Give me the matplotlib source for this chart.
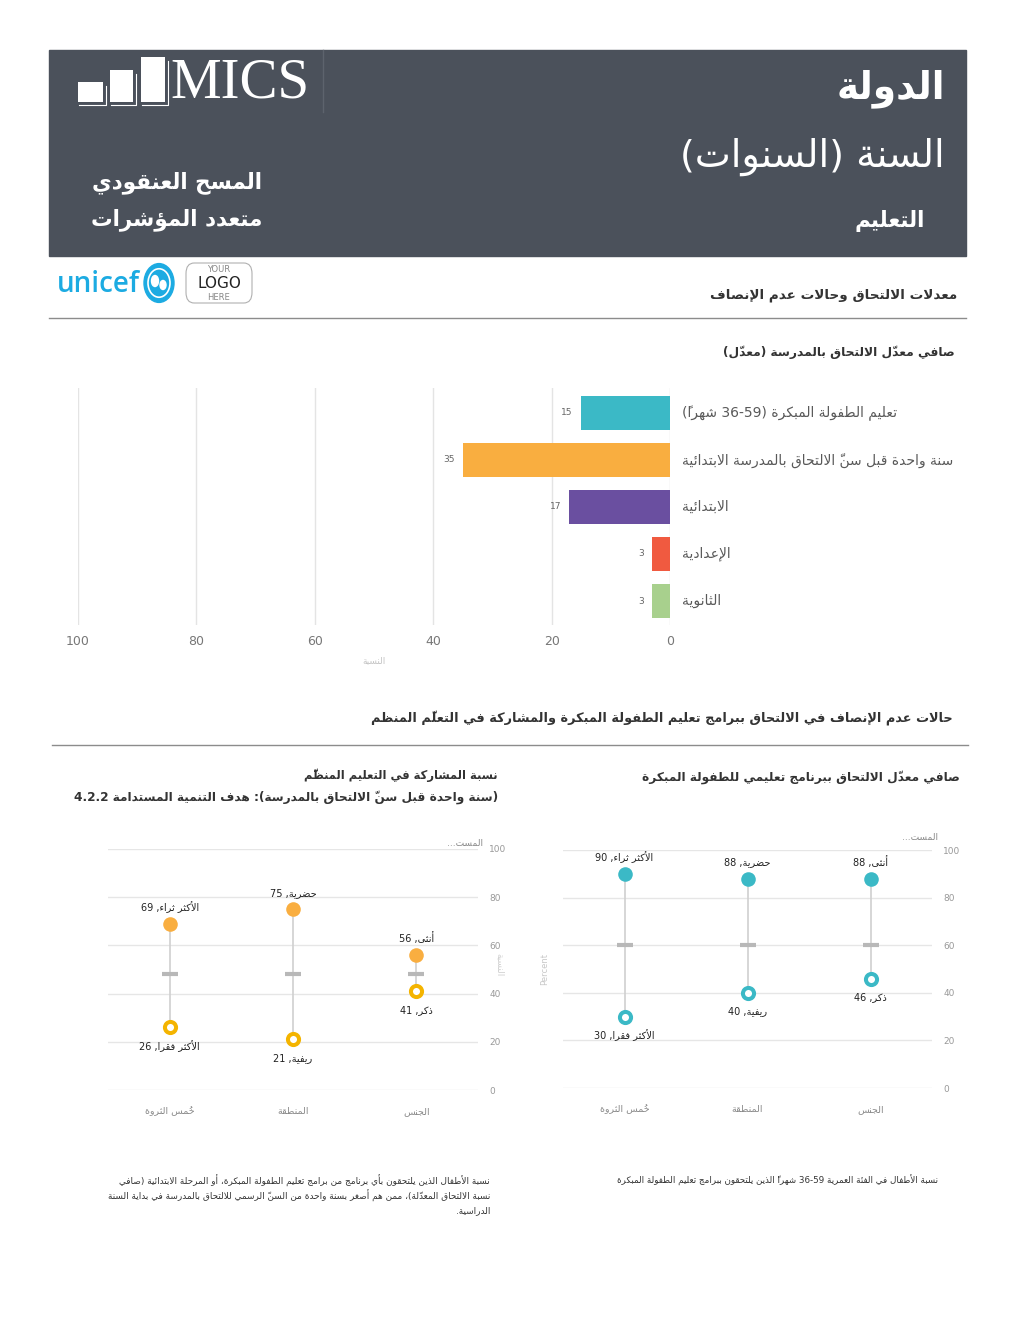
import numpy as np
import matplotlib
matplotlib.use("Agg")
import matplotlib.pyplot as plt
from matplotlib.patches import Rectangle, FancyBboxPatch, Circle, Ellipse
from matplotlib.lines import Line2D

# ---------------- data ----------------
bar_categories = ["تعليم الطفولة المبكرة (36-59 شهراً)",
                  "سنة واحدة قبل سنّ الالتحاق بالمدرسة الابتدائية",
                  "الابتدائية", "الإعدادية", "الثانوية"]
bar_values = [15, 35, 17, 3, 3]
bar_ticks = [100, 80, 60, 40, 20, 0]

groups = ["خُمس الثروة", "المنطقة", "الجنس"]
high_labels = ["الأكثر ثراء", "حضرية", "أنثى"]
low_labels = ["الأكثر فقرا", "ريفية", "ذكر"]

ecd_high = [90, 88, 88]
ecd_low = [30, 40, 46]
ecd_national = [60, 60, 60]

part_high = [69, 75, 56]
part_low = [26, 21, 41]
part_national = [48, 48, 48]

dumbbell_ticks = [0, 20, 40, 60, 80, 100]

# ---------------- styles ----------------
bar_colors = ["#3bb9c6", "#f9ae40", "#6a4fa0", "#f05a40", "#a8d08d"]
TEAL = "#3bb9c6"
ORANGE = "#f9ae40"
GOLD = "#f4b400"
HEADER = "#4b515b"

plt.rcParams['font.family'] = ['DejaVu Sans']

# ---------------- minimal Arabic shaping + bidi ----------------
AR_FORMS = {
    '\u0621': (0xFE80, 1), '\u0622': (0xFE81, 2), '\u0623': (0xFE83, 2), '\u0624': (0xFE85, 2),
    '\u0625': (0xFE87, 2), '\u0626': (0xFE89, 4), '\u0627': (0xFE8D, 2), '\u0628': (0xFE8F, 4),
    '\u0629': (0xFE93, 2), '\u062A': (0xFE95, 4), '\u062B': (0xFE99, 4), '\u062C': (0xFE9D, 4),
    '\u062D': (0xFEA1, 4), '\u062E': (0xFEA5, 4), '\u062F': (0xFEA9, 2), '\u0630': (0xFEAB, 2),
    '\u0631': (0xFEAD, 2), '\u0632': (0xFEAF, 2), '\u0633': (0xFEB1, 4), '\u0634': (0xFEB5, 4),
    '\u0635': (0xFEB9, 4), '\u0636': (0xFEBD, 4), '\u0637': (0xFEC1, 4), '\u0638': (0xFEC5, 4),
    '\u0639': (0xFEC9, 4), '\u063A': (0xFECD, 4), '\u0641': (0xFED1, 4), '\u0642': (0xFED5, 4),
    '\u0643': (0xFED9, 4), '\u0644': (0xFEDD, 4), '\u0645': (0xFEE1, 4), '\u0646': (0xFEE5, 4),
    '\u0647': (0xFEE9, 4), '\u0648': (0xFEED, 2), '\u0649': (0xFEEF, 2), '\u064A': (0xFEF1, 4),
}
LAM_ALEF = {'\u0622': 0xFEF5, '\u0623': 0xFEF7, '\u0625': 0xFEF9, '\u0627': 0xFEFB}
MIRROR = {'(': ')', ')': '(', '[': ']', ']': '['}


def is_mark(c):
    return ('\u064B' <= c <= '\u065F') or c == '\u0670' or ('\u0610' <= c <= '\u061A')


def ar(s):
    toks = []
    for c in s:
        if is_mark(c) and toks:
            toks[-1][1] += c
        else:
            toks.append([c, ''])
    merged = []
    i = 0
    while i < len(toks):
        c, m = toks[i]
        if c == '\u0644' and i + 1 < len(toks) and toks[i + 1][0] in LAM_ALEF:
            merged.append(['LA', m + toks[i + 1][1], LAM_ALEF[toks[i + 1][0]]])
            i += 2
        else:
            merged.append([c, m, None])
            i += 1

    def jtype(t):
        if t[0] == 'LA':
            return 'R'
        f = AR_FORMS.get(t[0])
        if f is None:
            return 'U'
        return {1: 'U', 2: 'R', 4: 'D'}[f[1]]

    types = [jtype(t) for t in merged]
    out = []
    for i, t in enumerate(merged):
        ty = types[i]
        jp = i > 0 and types[i - 1] == 'D' and ty in ('D', 'R')
        jn = i + 1 < len(merged) and ty == 'D' and types[i + 1] in ('D', 'R')
        if t[0] == 'LA':
            g = chr(t[2] + (1 if jp else 0))
        elif t[0] in AR_FORMS:
            base, n = AR_FORMS[t[0]]
            if n == 1:
                k = 0
            elif n == 2:
                k = 1 if jp else 0
            else:
                k = 3 if (jp and jn) else 1 if jp else 2 if jn else 0
            g = chr(base + k)
        else:
            g = t[0]
        out.append((g, t[1], t[0]))

    n = len(out)
    cls = []
    for g, m, o in out:
        if o == 'LA' or ('\u0600' <= o <= '\u06FF' and o != '\u060C'):
            cls.append('R')
        elif o.isdigit():
            cls.append('EN')
        elif o.isascii() and o.isalpha():
            cls.append('L')
        else:
            cls.append('N')
    for i in range(1, n - 1):
        if cls[i] == 'N' and out[i][2] in '.,:-' and cls[i - 1] == 'EN' and cls[i + 1] == 'EN':
            cls[i] = 'EN'
    lvl = []
    for i in range(n):
        if cls[i] == 'R':
            lvl.append(1)
        elif cls[i] in ('L', 'EN'):
            lvl.append(2)
        else:
            j = i - 1
            while j >= 0 and cls[j] == 'N':
                j -= 1
            k = i + 1
            while k < n and cls[k] == 'N':
                k += 1
            left = cls[j] if j >= 0 else 'R'
            right = cls[k] if k < n else 'R'
            lvl.append(2 if (left == 'L' and right == 'L') else 1)
    idx = list(range(n))
    res = []
    i = 0
    while i < n:
        if lvl[idx[i]] >= 2:
            j = i
            while j < n and lvl[idx[j]] >= 2:
                j += 1
            res.extend(reversed(idx[i:j]))
            i = j
        else:
            res.append(idx[i])
            i += 1
    res = res[::-1]
    s_out = ''
    for i in res:
        g, m, o = out[i]
        if lvl[i] == 1:
            g = MIRROR.get(g, g)
        s_out += m + g
    return s_out


# ---------------- figure ----------------
W, H = 1024, 1325
fig = plt.figure(figsize=(W / 100, H / 100), dpi=100)
fig.patch.set_facecolor('white')


def fx(x):
    return x / W


def fy(y):
    return 1 - y / H


def ftext(x, y, s, size, ha='right', va='center', weight='normal', color='#333333', **kw):
    fig.text(fx(x), fy(y), ar(s), fontsize=size, ha=ha, va=va, fontweight=weight, color=color, **kw)


def hline(x0, x1, y, color='#8c8c8c', lw=1.0):
    fig.add_artist(Line2D([fx(x0), fx(x1)], [fy(y), fy(y)], transform=fig.transFigure, color=color, lw=lw))


# header block
fig.add_artist(Rectangle((fx(49), fy(256)), (966 - 49) / W, (256 - 50) / H,
                         transform=fig.transFigure, color=HEADER, zorder=0))
fig.add_artist(Line2D([fx(323), fx(323)], [fy(50), fy(112)], transform=fig.transFigure,
                      color='#5d636d', lw=1))

# MICS logo bars
for (x0, x1, y0) in [(78, 103, 82), (110, 133, 70), (141, 165, 57)]:
    y1 = 102
    fig.add_artist(Rectangle((fx(x0), fy(y1)), (x1 - x0) / W, (y1 - y0) / H,
                             transform=fig.transFigure, facecolor='white', edgecolor='none'))
    fig.add_artist(Line2D([fx(x0 + 1), fx(x1 + 3), fx(x1 + 3)], [fy(y1 + 3), fy(y1 + 3), fy(y0 + 4)],
                          transform=fig.transFigure, color='white', lw=0.8))
fig.text(fx(170), fy(84), 'MICS', fontsize=41, family=['Liberation Serif'], color='white',
         ha='left', va='center')

ftext(945, 89, 'الدولة', 27, weight='bold', color='white')
ftext(945, 157, 'السنة (السنوات)', 27.5, color='white')
ftext(925, 221, 'التعليم', 15.5, weight='bold', color='white')
ftext(262, 183, 'المسح العنقودي', 15.5, weight='bold', color='white')
ftext(262, 220, 'متعدد المؤشرات', 15.5, weight='bold', color='white')

# logos row
fig.text(fx(57), fy(284), 'unicef', fontsize=20, color='#1cabe2', ha='left', va='center',
         fontweight='semibold', family=['Open Sans', 'DejaVu Sans'])
fig.add_artist(Circle((fx(159), fy(283)), 15 / W, transform=fig.transFigure, color='#1cabe2'))
fig.add_artist(Circle((fx(159), fy(283)), 11 / W, transform=fig.transFigure, facecolor='none',
                      edgecolor='white', lw=1.2))
fig.add_artist(Ellipse((fx(155), fy(281)), 7 / W, 11 / H, transform=fig.transFigure, color='white'))
fig.add_artist(Ellipse((fx(163), fy(285)), 6 / W, 9 / H, transform=fig.transFigure, color='white'))
fig.add_artist(FancyBboxPatch((fx(186), fy(303)), 66 / W, 40 / H, transform=fig.transFigure,
                              boxstyle='round,pad=0,rounding_size=0.008', facecolor='white',
                              edgecolor='#b0b0b0', lw=0.8))
fig.text(fx(219), fy(269), 'YOUR', fontsize=6, color='#888888', ha='center', va='center')
fig.text(fx(219), fy(284), 'LOGO', fontsize=11, color='#222222', ha='center', va='center')
fig.text(fx(219), fy(297), 'HERE', fontsize=6, color='#888888', ha='center', va='center')

ftext(957, 295, 'معدلات الالتحاق وحالات عدم الإنصاف', 9.7, weight='bold')
hline(49, 966, 318)

# ---------------- bar chart ----------------
ftext(955, 352, 'صافي معدّل الالتحاق بالمدرسة (معدّل)', 8.8, weight='bold')
axb = fig.add_axes([fx(78), fy(625), 592 / W, 237 / H])
ypos = np.arange(len(bar_categories))
axb.barh(ypos, bar_values, height=0.72, color=bar_colors, zorder=3)
axb.set_xlim(100, 0)
axb.set_ylim(4.51, -0.53)
axb.set_xticks(bar_ticks)
axb.set_yticks([])
axb.grid(axis='x', color='#e4e4e4', lw=1)
axb.set_axisbelow(True)
for sp in axb.spines.values():
    sp.set_visible(False)
axb.tick_params(axis='x', length=0, pad=7, labelsize=9, labelcolor='#777777')
axb.set_xlabel(ar('النسبة'), fontsize=6.5, color='#c4c4c4', labelpad=6)
for i, (v, lab) in enumerate(zip(bar_values, bar_categories)):
    axb.annotate(str(v), (v, i), xytext=(-6, 0), textcoords='offset points', ha='right',
                 va='center', fontsize=6.5, color='#666666')
    axb.annotate(ar(lab), (0, i), xytext=(8.5, 0), textcoords='offset points', ha='left',
                 va='center', fontsize=10, color='#595959', annotation_clip=False)

# ---------------- section 2 ----------------
ftext(953, 718, 'حالات عدم الإنصاف في الالتحاق ببرامج تعليم الطفولة المبكرة والمشاركة في التعلّم المنظم',
      9.3, weight='bold')
hline(52, 968, 745)
ftext(960, 777, 'صافي معدّل الالتحاق ببرنامج تعليمي للطفولة المبكرة', 8.7, weight='bold')
ftext(498, 775, 'نسبة المشاركة في التعليم المنظَّم', 8.3, weight='bold')
ftext(498, 797, '(سنة واحدة قبل سنّ الالتحاق بالمدرسة): هدف التنمية المستدامة 4.2.2', 8.7,
      weight='bold')


def dumbbell(ax, high, low, national, hi_color, lo_color):
    x = np.arange(len(groups))
    ax.vlines(x, low, high, color='#d0d0d0', lw=1.2, zorder=2)
    ax.plot(x, national, ls='none', marker='_', ms=11, mew=3, color='#b8b8b8', zorder=3)
    ax.plot(x, high, ls='none', marker='o', ms=10.5, color=hi_color, mec='none', zorder=4)
    ax.plot(x, low, ls='none', marker='o', ms=8, mfc='white', mec=lo_color, mew=2.9, zorder=4)
    for xi, v, lab in zip(x, high, high_labels):
        ax.annotate(ar(f'{lab}, {v}'), (xi, v), xytext=(0, 12), textcoords='offset points',
                    ha='center', va='center', fontsize=7, color='#222222', annotation_clip=False)
    for xi, v, lab in zip(x, low, low_labels):
        ax.annotate(ar(f'{lab}, {v}'), (xi, v), xytext=(0, -13.5), textcoords='offset points',
                    ha='center', va='center', fontsize=7, color='#222222', annotation_clip=False)
    ax.set_xlim(-0.5, 2.5)
    ax.set_ylim(0, 100)
    ax.set_yticks(dumbbell_ticks)
    ax.set_xticks(x)
    ax.set_xticklabels([ar(g) for g in groups])
    ax.yaxis.tick_right()
    ax.grid(axis='y', color='#e6e6e6', lw=1)
    ax.set_axisbelow(True)
    for sp in ax.spines.values():
        sp.set_visible(False)
    ax.tick_params(axis='y', length=0, pad=8, labelsize=6.5, labelcolor='#999999')
    ax.tick_params(axis='x', length=0, pad=12, labelsize=6.8, labelcolor='#888888')


# right chart (ECD attendance)
axr = fig.add_axes([fx(563), fy(1088), 369 / W, 238 / H])
dumbbell(axr, ecd_high, ecd_low, ecd_national, TEAL, TEAL)
axr.set_ylabel('Percent', fontsize=6, color='#c8c8c8', labelpad=10)
ftext(938, 838, 'المست...', 6.5, color='#888888')

# left chart (participation)
axl = fig.add_axes([fx(108), fy(1090), 370 / W, 241 / H])
dumbbell(axl, part_high, part_low, part_national, ORANGE, GOLD)
fig.text(fx(500), fy(965), ar('النسبة'), rotation=270, fontsize=6.5, color='#d0d0d0',
         ha='center', va='center')
ftext(483, 843, 'المست...', 6.5, color='#888888')

# footnotes
ftext(938, 1180, 'نسبة الأطفال في الفئة العمرية 36-59 شهراً الذين يلتحقون ببرامج تعليم الطفولة المبكرة',
      6.3, color='#333333')
ftext(490, 1181, 'نسبة الأطفال الذين يلتحقون بأي برنامج من برامج تعليم الطفولة المبكرة، أو المرحلة الابتدائية (صافي',
      6.4, color='#333333')
ftext(490, 1196, 'نسبة الالتحاق المعدّلة)، ممن هم أصغر بسنة واحدة من السنّ الرسمي للالتحاق بالمدرسة في بداية السنة',
      6.4, color='#333333')
ftext(490, 1211, 'الدراسية.', 6.4, color='#333333')

fig.savefig('out.png', dpi=100, facecolor='white')
